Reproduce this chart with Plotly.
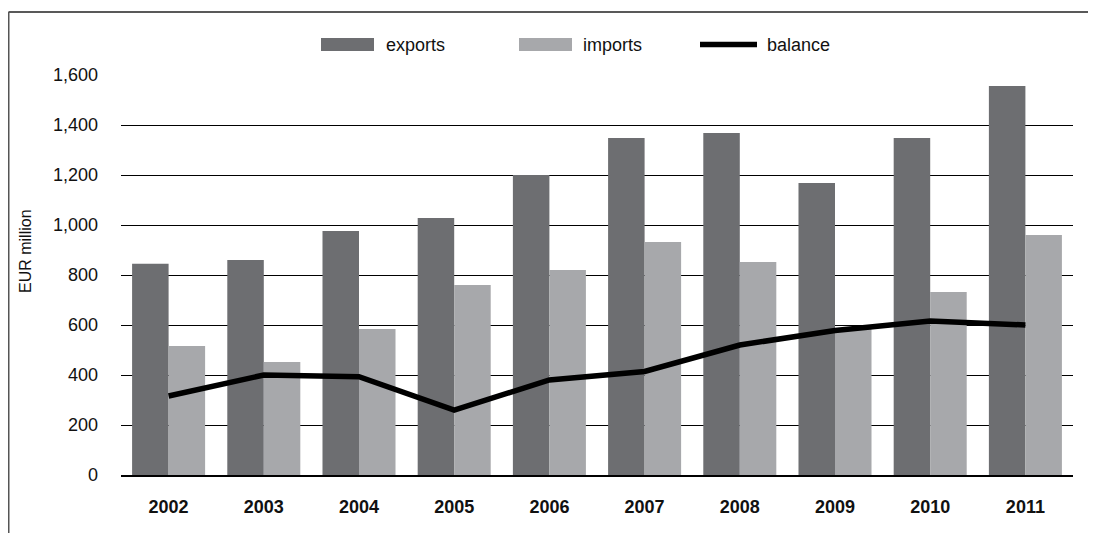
import plotly.graph_objects as go

years = ["2002", "2003", "2004", "2005", "2006", "2007", "2008", "2009", "2010", "2011"]
exports = [845, 860, 976, 1028, 1200, 1348, 1368, 1168, 1348, 1556]
imports = [516, 452, 584, 760, 820, 932, 852, 585, 732, 960]
balance = [316, 400, 393, 260, 380, 414, 520, 578, 616, 600]
y_ticks = [0, 200, 400, 600, 800, 1000, 1200, 1400, 1600]

C_EXP = "#6d6e71"
C_IMP = "#a7a8ab"
FONT = "Liberation Sans, Arial, Helvetica, sans-serif"

fig = go.Figure()
fig.add_trace(go.Bar(x=years, y=exports, name="exports", marker=dict(color=C_EXP, line=dict(width=0))))
fig.add_trace(go.Bar(x=years, y=imports, name="imports", marker=dict(color=C_IMP, line=dict(width=0))))
fig.add_trace(go.Scatter(x=years, y=balance, name="balance", mode="lines",
                         line=dict(color="#000000", width=5.5)))

# page has an 8px body margin: figure origin sits at (8, 8) on the page
OFF = 8
W, H = 1096, 533
# plot area in page coordinates
PX0, PX1, PY0, PY1 = 121, 1073, 74, 475
L, R, T, B = PX0 - OFF, W - (PX1 - OFF), PY0 - OFF, H - (PY1 - OFF)
pw, ph = PX1 - PX0, PY1 - PY0

def px(x):
    return (x - PX0) / pw

def py(y):
    return (PY1 - y) / ph

shapes = [
    # frame: top and left lines
    dict(type="line", xref="paper", yref="paper", x0=px(8.5), x1=px(1110), y0=py(12), y1=py(12),
         line=dict(color="#222222", width=1.5)),
    dict(type="line", xref="paper", yref="paper", x0=px(8.75), x1=px(8.75), y0=py(12), y1=py(560),
         line=dict(color="#555555", width=1.5)),
    # legend swatches
    dict(type="rect", xref="paper", yref="paper", x0=px(321), x1=px(374), y0=py(51), y1=py(38),
         fillcolor=C_EXP, line=dict(width=0)),
    dict(type="rect", xref="paper", yref="paper", x0=px(519), x1=px(572), y0=py(51), y1=py(38),
         fillcolor=C_IMP, line=dict(width=0)),
    dict(type="line", xref="paper", yref="paper", x0=px(700), x1=px(757), y0=py(44.5), y1=py(44.5),
         line=dict(color="#000000", width=5.5)),
]

annotations = [
    dict(text="exports", xref="paper", yref="paper", x=px(384), y=py(45), xanchor="left", yanchor="middle",
         showarrow=False, font=dict(size=18, color="#111111", family=FONT)),
    dict(text="imports", xref="paper", yref="paper", x=px(581), y=py(45), xanchor="left", yanchor="middle",
         showarrow=False, font=dict(size=18, color="#111111", family=FONT)),
    dict(text="balance", xref="paper", yref="paper", x=px(765), y=py(45), xanchor="left", yanchor="middle",
         showarrow=False, font=dict(size=18, color="#111111", family=FONT)),
    dict(text="EUR million", xref="paper", yref="paper", x=px(25), y=py(251), xanchor="center", yanchor="middle",
         textangle=-90, showarrow=False, font=dict(size=16, color="#111111", family=FONT)),
]

fig.update_layout(
    width=W, height=H,
    margin=dict(l=L, r=R, t=T, b=B, pad=0),
    paper_bgcolor="#ffffff", plot_bgcolor="#ffffff",
    barmode="group", bargap=0.233, bargroupgap=0,
    showlegend=False,
    font=dict(family=FONT, size=18, color="#111111"),
    shapes=shapes, annotations=annotations,
    xaxis=dict(type="category", showgrid=False, showline=True, linecolor="#000000", linewidth=1.5,
               ticks="", ticklabelstandoff=15, tickfont=dict(size=18, family=FONT, color="#111111", weight="bold"),
               fixedrange=True),
    yaxis=dict(range=[0, 1604], tickvals=y_ticks, ticktext=[f"{v:,}" for v in y_ticks],
               showgrid=True, gridcolor="#000000", gridwidth=1.2, zeroline=False, showline=False,
               ticks="", ticklabelstandoff=22, tickfont=dict(size=18, family=FONT, color="#111111"),
               fixedrange=True),
)

fig.write_html("out.html")
